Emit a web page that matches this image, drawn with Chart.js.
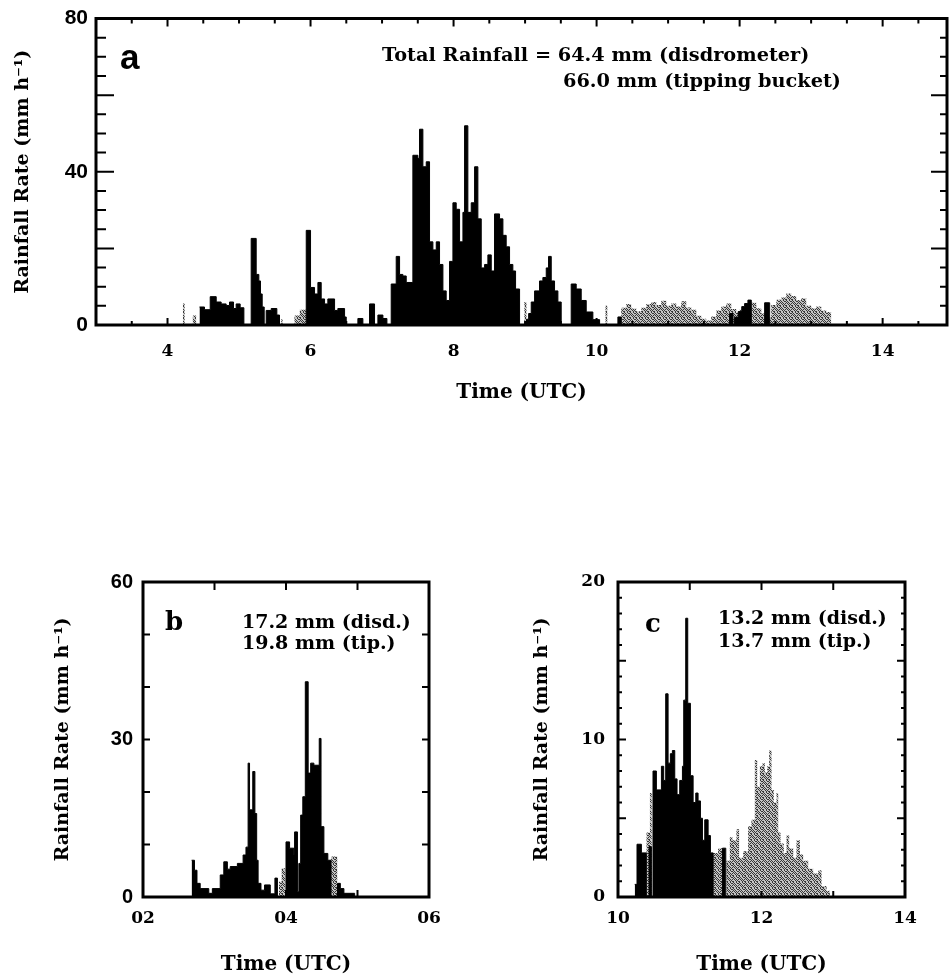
<!DOCTYPE html>
<html>
<head>
<meta charset="utf-8">
<title>Rainfall rate</title>
<script src="https://cdn.jsdelivr.net/npm/chart.js@4.4.1/dist/chart.umd.min.js"></script>
<style>
  body { margin: 0; background: #fff; }
  #wrap { position: relative; width: 950px; height: 977px; }
  canvas { position: absolute; }
  #chartA { left: 0; top: 0; }
  #chartB { left: 0; top: 540px; }
  #chartC { left: 475px; top: 540px; }
</style>
</head>
<body>
<div id="wrap">
  <canvas id="chartA" width="950" height="420"></canvas>
  <canvas id="chartB" width="475" height="437"></canvas>
  <canvas id="chartC" width="475" height="437"></canvas>
</div>
<script>
// Panel a: whole event (step starts, hours UTC / mm h-1)
const aTimeDisd = [4.447, 4.517, 4.597, 4.681, 4.750, 4.820, 4.867, 4.923, 4.960, 5.016, 5.068,
  5.170, 5.240, 5.277, 5.300, 5.324, 5.352,
  5.380, 5.450, 5.529, 5.566,
  5.940, 6.000, 6.056, 6.103, 6.149, 6.196, 6.242, 6.336, 6.382, 6.476, 6.499,
  6.662, 6.732, 6.825, 6.895, 6.942, 7.012, 7.068,
  7.128, 7.198, 7.245, 7.291, 7.338, 7.431, 7.501, 7.524, 7.571, 7.618, 7.664, 7.711, 7.758, 7.804, 7.851,
  7.897, 7.944, 7.991, 8.037, 8.084, 8.131, 8.154, 8.200, 8.247, 8.294, 8.340, 8.387, 8.434, 8.480, 8.527,
  8.573, 8.643, 8.690, 8.736, 8.783, 8.829, 8.867, 8.923,
  9.020, 9.050, 9.086, 9.133, 9.202, 9.249, 9.296, 9.328, 9.366, 9.412, 9.459, 9.505,
  9.645, 9.715, 9.785, 9.855, 9.948, 10.042,
  10.298, 10.345,
  11.860, 11.907, 11.930, 11.980, 12.030, 12.070, 12.116, 12.163,
  12.350, 12.420];
const aRateDisd = [4.7, 4.0, 7.4, 6.0, 5.5, 5.1, 6.0, 4.3, 5.5, 4.5, 0,
  22.6, 13.2, 11.5, 8.1, 4.7, 0,
  3.8, 4.3, 2.6, 0,
  24.7, 9.8, 8.1, 11.1, 6.8, 5.5, 6.8, 3.8, 4.3, 2.1, 0,
  1.7, 0, 5.5, 0, 2.6, 1.7, 0,
  10.7, 17.9, 13.2, 12.8, 11.1, 44.3, 43.5, 51.1, 41.3, 42.6, 21.7, 19.6, 21.7, 15.8, 8.9,
  6.4, 16.6, 31.9, 30.2, 21.7, 29.4, 52.0, 29.4, 31.9, 41.3, 27.7, 14.9, 15.8, 18.3, 14.1,
  29.0, 27.7, 23.4, 20.4, 15.8, 14.1, 9.4, 0,
  1.5, 3.0, 6.0, 8.9, 11.5, 12.4, 14.9, 17.9, 11.5, 8.9, 6.0, 0,
  10.7, 9.4, 6.4, 3.4, 1.4, 0,
  2.1, 0,
  3.0, 0, 2.0, 3.5, 4.8, 5.6, 6.5, 0,
  5.8, 0];
const aTimeTip = [4.214, 4.240, 4.354, 4.400, 5.590, 5.610, 5.776, 5.850, 5.940,
  8.990, 9.020, 10.125, 10.150,
  10.345, 10.415, 10.485, 10.555, 10.625, 10.695, 10.764, 10.834, 10.904, 10.974,
  11.044, 11.114, 11.184, 11.254, 11.324, 11.394, 11.464, 11.533, 11.603, 11.673,
  11.743, 11.813, 11.883, 11.953, 12.000, 12.163, 12.233, 12.303, 12.350, 12.443,
  12.513, 12.583, 12.653, 12.722, 12.792, 12.862, 12.932, 13.002, 13.072, 13.142,
  13.212, 13.282];
const aRateTip = [5.6, 0, 2.5, 0, 1.5, 0, 2.5, 4.0, 0,
  6.0, 0, 5.0, 0,
  4.5, 5.5, 4.3, 3.6, 4.5, 5.5, 6.0, 5.2, 6.3, 5.0,
  5.6, 4.8, 6.2, 4.6, 4.0, 2.4, 1.6, 1.2, 2.2, 3.8,
  4.8, 5.6, 4.2, 3.2, 4.0, 5.8, 4.4, 3.0, 2.0, 5.2,
  6.6, 7.2, 8.2, 7.6, 6.5, 7.0, 5.0, 4.4, 4.8, 3.8,
  3.4, 0];
const aTickX = [4, 6, 8, 10, 12, 14];
const aTickY = [0, 40, 80];

// Panel b
const bTimeDisd = [2.680, 2.720, 2.755, 2.800, 2.920, 2.970, 3.080, 3.130, 3.180, 3.220, 3.320, 3.400,
  3.440, 3.470, 3.490, 3.535, 3.565, 3.590, 3.610, 3.650, 3.700, 3.780, 3.845, 3.880,
  4.000, 4.050, 4.110, 4.120, 4.160, 4.180, 4.205, 4.235, 4.270, 4.310, 4.345, 4.390,
  4.465, 4.490, 4.530, 4.585, 4.630,
  4.720, 4.760, 4.810, 4.960];
const bRateDisd = [7.0, 5.1, 2.6, 1.6, 0.7, 1.6, 4.2, 6.7, 5.3, 5.8, 6.4, 8.0,
  9.5, 25.5, 16.6, 23.9, 15.9, 7.0, 2.6, 1.3, 2.3, 0.6, 3.6, 0,
  10.5, 9.3, 8.0, 12.4, 1.0, 6.4, 15.6, 19.1, 41.0, 23.6, 25.5, 25.1,
  30.2, 13.4, 8.3, 7.0, 0,
  2.6, 1.6, 0.7, 0];
const bTimeTip = [3.900, 3.940, 3.990, 4.630, 4.720];
const bRateTip = [2.9, 5.5, 0, 7.7, 0];
const bTickX = [2, 4, 6];
const bTickY = [0, 30, 60];

// Panel c
const cTimeDisd = [10.233, 10.265, 10.326, 10.395, 10.433, 10.465, 10.488, 10.535, 10.605, 10.637,
  10.665, 10.698, 10.730, 10.758, 10.791, 10.823, 10.860, 10.898, 10.916, 10.944,
  10.972, 11.009, 11.047, 11.084, 11.116, 11.149, 11.177, 11.209, 11.256, 11.288,
  11.326, 11.456, 11.502];
const cRateDisd = [0.8, 3.35, 2.8, 0, 3.2, 0, 8.0, 6.8, 8.3, 7.4,
  12.9, 8.5, 9.1, 9.3, 7.5, 6.5, 7.4, 8.3, 12.5, 17.7,
  12.3, 7.7, 6.0, 6.6, 6.1, 5.0, 3.6, 4.9, 3.9, 2.8,
  0, 3.1, 0];
const cTimeTip = [10.395, 10.445, 10.470, 11.326, 11.395, 11.456, 11.512, 11.558, 11.595, 11.651,
  11.688, 11.744, 11.814, 11.860, 11.907, 11.940, 11.977, 12.014, 12.047, 12.079,
  12.107, 12.140, 12.172, 12.209, 12.233, 12.265, 12.312, 12.349, 12.386, 12.442,
  12.488, 12.535, 12.581, 12.651, 12.721, 12.791, 12.837, 12.907, 12.953];
const cRateTip = [4.1, 6.6, 0, 2.8, 3.1, 0, 2.3, 3.8, 3.6, 4.3,
  2.5, 2.9, 4.5, 4.9, 8.7, 7.0, 8.3, 8.5, 7.9, 8.3,
  9.3, 6.8, 6.0, 6.6, 4.1, 3.4, 2.8, 3.9, 3.1, 2.5,
  3.6, 2.7, 2.3, 1.8, 1.5, 1.7, 0.7, 0.4, 0];
const cTickX = [10, 12, 14];
const cTickY = [0, 10, 20];

const SERIF = '"DejaVu Serif", serif';
const SANS = '"Liberation Sans", Arial, sans-serif';
const Y_TITLE = 'Rainfall Rate (mm h\u207B\u00B9)';

function toPoints(times, rates) {
  return times.map((t, i) => ({ x: t, y: rates[i] }));
}

// stippled grey used for the tipping bucket record
function stipple() {
  const c = document.createElement('canvas');
  c.width = 6; c.height = 6;
  const g = c.getContext('2d');
  g.fillStyle = '#c4c4c4';
  g.fillRect(0, 0, 6, 6);
  g.fillStyle = '#383838';
  const dots = [[0, 0], [3, 0], [1, 1], [4, 1], [5, 1], [0, 2], [2, 2], [1, 3], [3, 3], [5, 3],
    [2, 4], [4, 4], [0, 5], [3, 5], [5, 5]];
  dots.forEach(([i, j]) => g.fillRect(i, j, 1, 1));
  return g.createPattern(c, 'repeat');
}

function eachStep(min, max, step, fn) {
  const n0 = Math.ceil(min / step - 1e-9), n1 = Math.floor(max / step + 1e-9);
  for (let n = n0; n <= n1; n++) {
    const v = n * step;
    if (v > min + 1e-9 && v < max - 1e-9) fn(v);
  }
}

function isMultiple(v, step) {
  return Math.abs(v / step - Math.round(v / step)) < 1e-6;
}

// box frame, inward ticks on all four sides, panel letter and totals
function makeFrame(o) {
  return {
    id: 'frame',
    afterDatasetsDraw(chart) {
      const { ctx, chartArea: a, scales: { x, y } } = chart;
      ctx.save();
      ctx.strokeStyle = '#000';
      ctx.lineWidth = 2;
      ctx.beginPath();
      eachStep(x.min, x.max, o.xMinor, v => {
        const px = x.getPixelForValue(v);
        const k = isMultiple(v, o.xMajor) ? 1 : 0;
        ctx.moveTo(px, a.top); ctx.lineTo(px, a.top + o.topLen[k]);
        ctx.moveTo(px, a.bottom); ctx.lineTo(px, a.bottom - o.bottomLen[k]);
      });
      eachStep(y.min, y.max, o.yMinor, v => {
        const py = y.getPixelForValue(v);
        const k = isMultiple(v, o.yMajor) ? 1 : 0;
        ctx.moveTo(a.left, py); ctx.lineTo(a.left + o.leftLen[k], py);
        ctx.moveTo(a.right, py); ctx.lineTo(a.right - o.rightLen[k], py);
      });
      ctx.stroke();
      ctx.lineWidth = 3;
      ctx.strokeRect(a.left, a.top, a.right - a.left, a.bottom - a.top);

      ctx.fillStyle = '#000';
      ctx.textBaseline = 'alphabetic';
      ctx.textAlign = 'left';
      ctx.font = o.letterFont;
      ctx.fillText(o.letter, a.left + o.letterAt[0], a.top + o.letterAt[1]);
      ctx.font = o.noteFont;
      o.notes.forEach(n => ctx.fillText(n.text, a.left + n.at[0], a.top + n.at[1]));
      ctx.restore();
    }
  };
}

function buildChart(id, p) {
  const ctx = document.getElementById(id).getContext('2d');
  return new Chart(ctx, {
    type: 'line',
    data: {
      datasets: [
        {
          label: 'Disdrometer',
          data: toPoints(p.disdTime, p.disdRate),
          stepped: 'before', fill: 'origin', pointRadius: 0,
          backgroundColor: '#000', borderColor: '#000', borderWidth: 1
        },
        {
          label: 'Tipping bucket',
          data: toPoints(p.tipTime, p.tipRate),
          stepped: 'before', fill: 'origin', pointRadius: 0,
          backgroundColor: stipple(), borderColor: 'rgba(0,0,0,0)', borderWidth: 0
        }
      ]
    },
    options: {
      responsive: false,
      animation: false,
      devicePixelRatio: 1,
      layout: { padding: p.padding },
      plugins: { legend: { display: false }, tooltip: { enabled: false } },
      scales: {
        x: {
          type: 'linear', min: p.xMin, max: p.xMax,
          grid: { display: false, drawTicks: false },
          border: { display: false },
          afterFit: s => { s.height = p.xHeight; },
          afterBuildTicks: s => { s.ticks = p.xTicks.map(v => ({ value: v })); },
          ticks: {
            autoSkip: false, maxRotation: 0, padding: p.xTickPad, color: '#000',
            font: { family: SERIF, size: 17, weight: 'bold', lineHeight: 1 },
            callback: p.xFormat
          },
          title: {
            display: true, text: 'Time (UTC)', color: '#000',
            font: { family: SERIF, size: 20, weight: 'bold' },
            padding: { top: 0, bottom: p.xTitlePad }
          }
        },
        y: {
          min: p.yMin, max: p.yMax,
          grid: { display: false, drawTicks: false },
          border: { display: false },
          afterFit: s => { s.width = p.yWidth; },
          afterBuildTicks: s => { s.ticks = p.yTicks.map(v => ({ value: v })); },
          ticks: {
            padding: p.yTickPad, color: '#000',
            font: { family: p.yTickFamily, size: p.yTickSize, weight: 'bold', lineHeight: 1 }
          },
          title: {
            display: true, text: Y_TITLE, color: '#000',
            font: { family: SERIF, size: 19, weight: 'bold' },
            padding: { top: p.yTitlePad, bottom: 0 }
          }
        }
      }
    },
    plugins: [makeFrame(p.frame)]
  });
}

buildChart('chartA', {
  disdTime: aTimeDisd, disdRate: aRateDisd, tipTime: aTimeTip, tipRate: aRateTip,
  xMin: 3, xMax: 14.9, yMin: 0, yMax: 80, xTicks: aTickX, yTicks: aTickY,
  xFormat: v => String(v),
  padding: { top: 12, right: 3, left: 0, bottom: 0 },
  xHeight: 95, yWidth: 96, xTickPad: 18, yTickPad: 8, xTitlePad: 15, yTitlePad: 12,
  yTickFamily: SANS, yTickSize: 21,
  frame: {
    xMinor: 0.5, xMajor: 2, topLen: [5, 8], bottomLen: [4, 7],
    yMinor: 5, yMajor: 20, leftLen: [10, 18], rightLen: [7, 16],
    letter: 'a', letterFont: 'bold 35px ' + SANS, letterAt: [24, 50],
    noteFont: 'bold 19.3px ' + SERIF,
    notes: [
      { text: 'Total Rainfall = 64.4 mm (disdrometer)', at: [286, 42] },
      { text: '66.0 mm (tipping bucket)', at: [467, 68] }
    ]
  }
});

buildChart('chartB', {
  disdTime: bTimeDisd, disdRate: bRateDisd, tipTime: bTimeTip, tipRate: bRateTip,
  xMin: 2, xMax: 6, yMin: 0, yMax: 60, xTicks: bTickX, yTicks: bTickY,
  xFormat: v => String(v).padStart(2, '0'),
  padding: { top: 42, right: 46, left: 0, bottom: 0 },
  xHeight: 80, yWidth: 143, xTickPad: 13, yTickPad: 10, xTitlePad: 0, yTitlePad: 52,
  yTickFamily: SANS, yTickSize: 20,
  frame: {
    xMinor: 1, xMajor: 1, topLen: [8, 8], bottomLen: [7, 7],
    yMinor: 10, yMajor: 10, leftLen: [7, 7], rightLen: [7, 7],
    letter: 'b', letterFont: 'bold 26px ' + SERIF, letterAt: [22, 48],
    noteFont: 'bold 19px ' + SERIF,
    notes: [
      { text: '17.2 mm (disd.)', at: [99, 46] },
      { text: '19.8 mm (tip.)', at: [99, 67] }
    ]
  }
});

buildChart('chartC', {
  disdTime: cTimeDisd, disdRate: cRateDisd, tipTime: cTimeTip, tipRate: cRateTip,
  xMin: 10, xMax: 14, yMin: 0, yMax: 20, xTicks: cTickX, yTicks: cTickY,
  xFormat: v => String(v),
  padding: { top: 42, right: 45, left: 0, bottom: 0 },
  xHeight: 80, yWidth: 143, xTickPad: 13, yTickPad: 13, xTitlePad: 0, yTitlePad: 56,
  yTickFamily: SERIF, yTickSize: 17,
  frame: {
    xMinor: 1, xMajor: 1, topLen: [8, 8], bottomLen: [6, 6],
    yMinor: 1, yMajor: 5, leftLen: [4, 8], rightLen: [4, 8],
    letter: 'c', letterFont: 'bold 26px ' + SERIF, letterAt: [27, 50],
    noteFont: 'bold 19px ' + SERIF,
    notes: [
      { text: '13.2 mm (disd.)', at: [100, 42] },
      { text: '13.7 mm (tip.)', at: [100, 65] }
    ]
  }
});
</script>
</body>
</html>
